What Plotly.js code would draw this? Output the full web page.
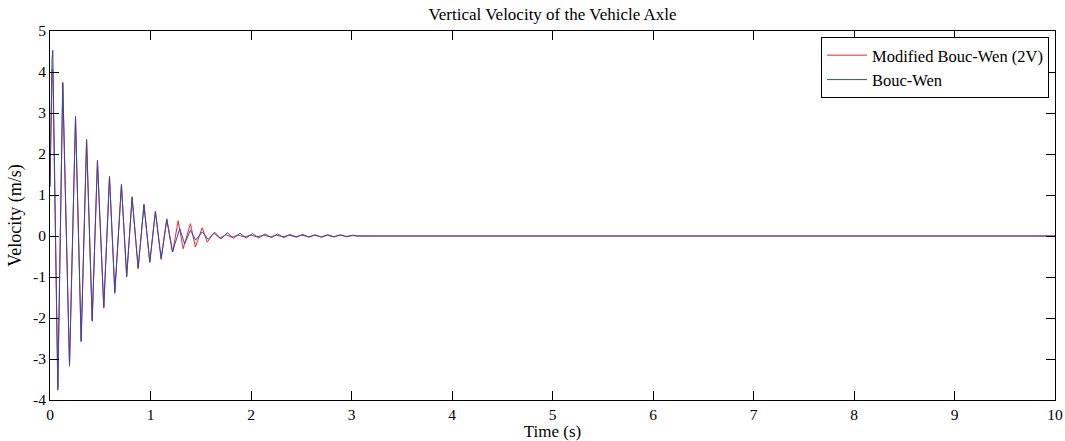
<!DOCTYPE html>
<html>
<head>
<meta charset="utf-8">
<script src="https://cdn.plot.ly/plotly-3.0.1.min.js"></script>
<style>html,body{margin:0;padding:0;background:#fff;}#chart{width:1065px;height:441px;}</style>
</head>
<body>
<div id="chart"></div>
<script>
// Bouc-Wen (blue) – peaks/troughs
const timeBW = [0.000, 0.012, 0.020, 0.028, 0.078, 0.127, 0.194, 0.254, 0.310, 0.364, 0.420, 0.472, 0.535, 0.592, 0.645, 0.711, 0.763, 0.817, 0.877, 0.935, 0.993, 1.049, 1.106, 1.162, 1.218, 1.291, 1.340, 1.397, 1.450, 1.515, 1.575, 1.640, 1.700, 1.765, 1.827, 1.890, 1.953, 2.015, 2.078, 2.140, 2.203, 2.265, 2.328, 2.390, 2.453, 2.515, 2.578, 2.640, 2.703, 2.765, 2.828, 2.890, 2.953, 3.015, 3.060, 10.0];
const velBW  = [1.20, 3.30, 4.30, 4.53, -3.76, 3.72, -3.15, 2.89, -2.55, 2.33, -2.06, 1.82, -1.73, 1.44, -1.37, 1.24, -0.98, 0.94, -0.78, 0.75, -0.63, 0.59, -0.55, 0.40, -0.39, 0.18, -0.19, 0.14, -0.10, 0.10, -0.08, 0.09, -0.07, 0.08, -0.06, 0.07, -0.05, 0.06, -0.05, 0.05, -0.04, 0.05, -0.04, 0.04, -0.03, 0.04, -0.03, 0.03, -0.03, 0.03, -0.02, 0.03, -0.02, 0.02, 0.00, 0.00];

// Modified Bouc-Wen (2V) (red)
const timeMBW = [0.000, 0.012, 0.020, 0.028, 0.078, 0.127, 0.194, 0.254, 0.310, 0.364, 0.420, 0.472, 0.535, 0.592, 0.645, 0.711, 0.763, 0.817, 0.877, 0.935, 0.993, 1.049, 1.106, 1.162, 1.221, 1.275, 1.325, 1.397, 1.447, 1.514, 1.565, 1.629, 1.690, 1.750, 1.810, 1.870, 1.935, 2.000, 2.060, 2.125, 2.190, 2.250, 2.315, 2.380, 2.440, 2.505, 2.570, 2.630, 2.695, 2.760, 2.820, 2.885, 2.950, 3.010, 3.060, 10.0];
const velMBW  = [1.20, 3.30, 4.06, 4.06, -3.70, 3.75, -3.18, 2.92, -2.58, 2.36, -2.08, 1.85, -1.76, 1.46, -1.40, 1.27, -1.00, 0.96, -0.80, 0.78, -0.65, 0.61, -0.57, 0.42, -0.39, 0.37, -0.31, 0.30, -0.27, 0.20, -0.15, 0.07, -0.05, 0.03, -0.03, 0.02, -0.02, 0.02, -0.02, 0.02, -0.02, 0.02, -0.02, 0.02, -0.02, 0.02, -0.02, 0.02, -0.02, 0.02, -0.02, 0.02, -0.01, 0.01, 0.00, 0.00];

const xTicks = [0,1,2,3,4,5,6,7,8,9,10];
const yTicks = [-4,-3,-2,-1,0,1,2,3,4,5];

const serif = '"Liberation Serif", "Times New Roman", Times, serif';

const traces = [
  {x: timeMBW, y: velMBW, type: 'scatter', mode: 'lines', name: 'Modified Bouc-Wen (2V)',
   line: {color: 'rgb(235,35,45)', width: 1}},
  {x: timeBW, y: velBW, type: 'scatter', mode: 'lines', name: 'Bouc-Wen',
   line: {color: 'rgb(45,75,180)', width: 1}}
];

const axisCommon = {
  showgrid: false, zeroline: false, showline: true, mirror: 'ticks',
  linecolor: '#000', linewidth: 1, ticks: 'inside', ticklen: 9, tickcolor: '#000',
  tickfont: {family: serif, size: 15.5, color: '#000'}
};

const layout = {
  width: 1065, height: 441,
  margin: {l: 50, r: 10, t: 31, b: 41},
  paper_bgcolor: '#fff', plot_bgcolor: '#fff',
  showlegend: true,
  title: {text: 'Vertical Velocity of the Vehicle Axle', font: {family: serif, size: 17, color: '#000'},
          x: 0.5, xref: 'paper', y: 1 - 14/441, yref: 'container', yanchor: 'middle'},
  xaxis: Object.assign({}, axisCommon, {range: [0, 10], tickvals: xTicks, ticktext: xTicks.map(String),
          title: {text: 'Time (s)', font: {family: serif, size: 17, color: '#000'}, standoff: 2}}),
  yaxis: Object.assign({}, axisCommon, {range: [-4, 5], tickvals: yTicks, ticktext: yTicks.map(String),
          title: {text: 'Velocity (m/s)', font: {family: serif, size: 18, color: '#000'}, standoff: 6}}),
  legend: {x: 0.994, xanchor: 'right', y: 0.984, yanchor: 'top', bgcolor: '#fff',
           bordercolor: '#000', borderwidth: 1, font: {family: serif, size: 16.5, color: '#000'},
           tracegroupgap: 0, itemwidth: 40}
};

Plotly.newPlot('chart', traces, layout, {staticPlot: true});
</script>
</body>
</html>
